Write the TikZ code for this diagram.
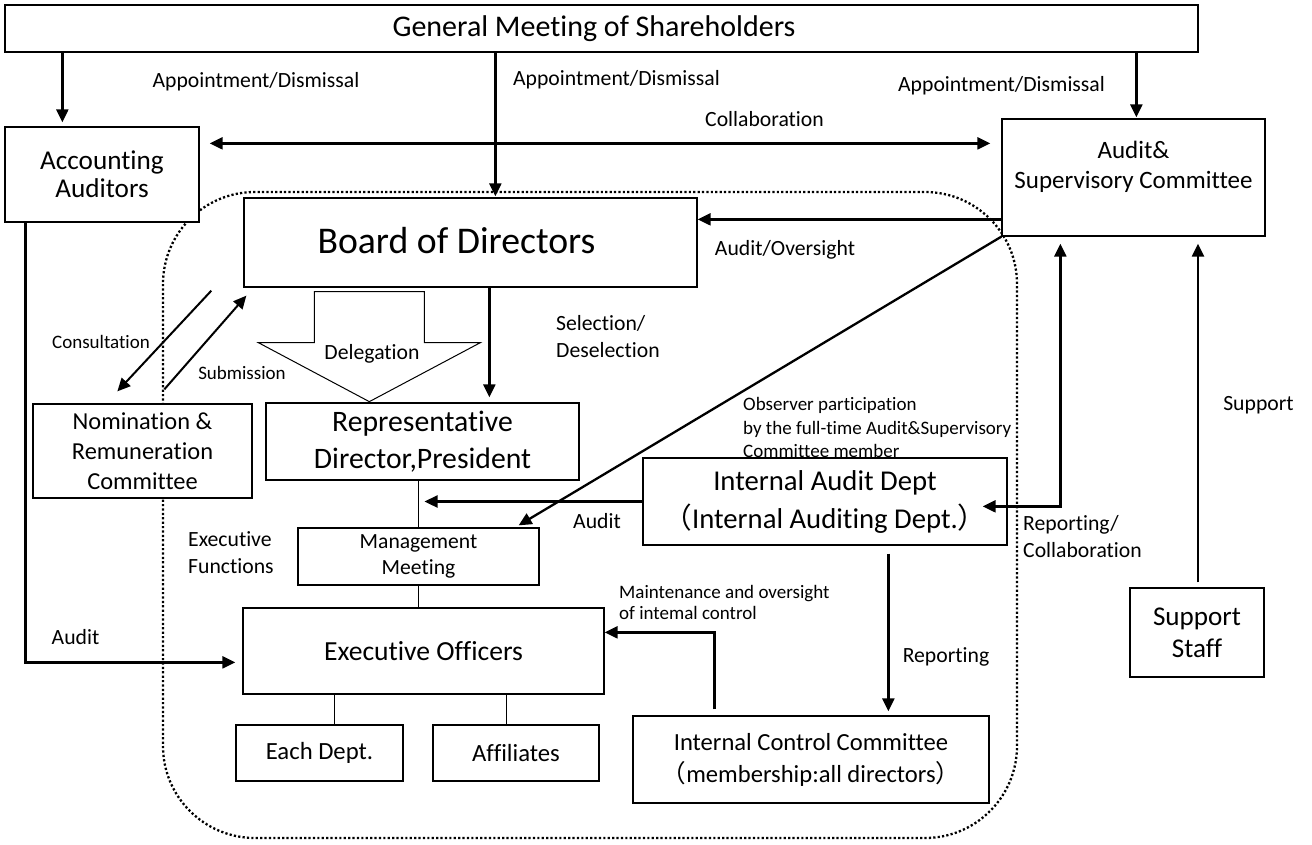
\documentclass[tikz,border=0pt]{standalone}
\usepackage{fontspec}
\setmainfont{Carlito}[Ligatures=NoCommon]
\newfontfamily\cjk{Noto Sans CJK JP}
\usetikzlibrary{arrows.meta,calc}
\newcommand{\fs}[2]{\fontsize{#1}{#2}\selectfont}
\begin{document}
\begin{tikzpicture}[x=1pt,y=-1pt,
  box/.style={draw,line width=1.3pt,fill=white,inner sep=0pt,align=center},
  arr/.style={line width=2.3pt,-{Triangle[length=13pt,width=12pt]}},
  darr/.style={line width=2.3pt,{Triangle[length=13pt,width=12pt]}-{Triangle[length=13pt,width=12pt]}},
  thinline/.style={line width=1.2pt},
  lbl/.style={inner sep=0pt,align=center,font={\fs{21.7}{27}}},
  slbl/.style={inner sep=0pt,align=left,font={\fs{19}{23.5}}},
  frame/.style={line width=2.3pt,dash pattern=on 2.2pt off 2.2pt,rounded corners=92pt}
]
\useasboundingbox (0,0) rectangle (1312,844);
\draw[frame] (163,192) rectangle (1017,838);

% boxes
\node[box,minimum width=1193pt,minimum height=47pt,
  label={[font={\fs{30}{36}},xshift=-7.5pt]center:General Meeting of Shareholders}] (GMS) at (601.5,28.5) {};
\node[box,minimum width=194pt,minimum height=95pt,font={\fs{27.2}{28}}] (AA) at (102,174.5) {Accounting\\Auditors};
\node[box,minimum width=263pt,minimum height=117pt,
  label={[font={\fs{25}{30}},align=center,yshift=10.5pt]center:Audit\&\\Supervisory Committee}] (AS) at (1133.5,177.5) {};
\node[box,minimum width=453pt,minimum height=89pt,
  label={[font={\fs{37.7}{40}},xshift=-14pt,yshift=2pt]center:Board of Directors}] (BOD) at (470.5,242.5) {};
\node[box,minimum width=313pt,minimum height=77pt,font={\fs{29.7}{37}}] (REP) at (422.5,441.5) {Representative\\Director,President};
\node[box,minimum width=219pt,minimum height=94pt,font={\fs{24.4}{30}}] (NRC) at (142.5,451) {Nomination \&\\Remuneration\\Committee};
\node[box,minimum width=241pt,minimum height=57pt,font={\fs{21.6}{26}}] (MM) at (418.5,556.5) {Management\\Meeting};
\node[box,minimum width=361pt,minimum height=86pt,font={\fs{27.6}{30}}] (EO) at (423.5,651) {Executive Officers};
\node[box,minimum width=167pt,minimum height=56pt,font={\fs{24.7}{30}}] (ED) at (319.5,753) {Each Dept.};
\node[box,minimum width=166pt,minimum height=56pt,font={\fs{24.7}{30}}] (AF) at (516,753) {Affiliates};
\node[box,minimum width=356pt,minimum height=87pt,font={\fs{24.6}{32}}] (ICC) at (811,759.5) {Internal Control Committee\\{\cjk （}membership:all directors{\cjk ）}};
\node[box,minimum width=364pt,minimum height=87pt,font={\fs{28.7}{38}}] (IAD) at (825,501.5) {Internal Audit Dept\\{\cjk （}Internal Auditing Dept.{\cjk ）}};
\node[box,minimum width=134pt,minimum height=89pt,font={\fs{27.1}{32}}] (SS) at (1197,632.5) {Support\\Staff};

% delegation block arrow
\begin{scope}[shift={(BOD.south west)}]
\draw[line width=1pt,fill=white] (71,4) -- (71,55) -- (15,55) -- (126,114) -- (237,55) -- (181,55) -- (181,4) -- cycle;
\end{scope}
\node[lbl] (DEL) at (372,354) {Delegation};

% connectors
\coordinate (a1) at ($(AA.north west)+(58,0)$);
\draw[arr,shorten >=4pt] (GMS.south -| a1) -- (a1);
\coordinate (a2) at ($(BOD.north west)+(252,0)$);
\draw[arr,shorten >=1pt] (GMS.south -| a2) -- (a2);
\coordinate (a3) at ($(AS.north west)+(135,0)$);
\draw[arr,shorten >=1pt] (GMS.south -| a3) -- (a3);

\draw[darr] ($(AA.north east)+(10,17)$) -- ($(AS.north west)+(-11,25)$);

\coordinate (ao) at ($(AS.north west)+(0,101)$);
\draw[arr] (ao) -- (BOD.east |- ao);

\coordinate (s1) at ($(BOD.south west)+(246,0)$);
\draw[arr,shorten >=5pt] (s1) -- (s1 |- REP.north);

\draw[arr,line width=2pt] ($(BOD.south west)+(-32,3)$) -- ($(NRC.north west)+(85,-12)$);
\draw[arr,line width=2pt] ($(NRC.north west)+(132,-14)$) -- ($(BOD.south west)+(3,8)$);

\draw[thinline] (MM.north |- REP.south) -- (MM.north);
\draw[arr] (IAD.west) -- ($(MM.north |- IAD.west)+(6,0)$);
\draw[arr] (AS.south west) -- ($(MM.north east)+(-21,-2)$);
\draw[thinline] (MM.south) -- (MM.south |- EO.north);

\coordinate (e1) at ($(EO.south west)+(92,0)$);
\draw[thinline] (e1) -- (e1 |- ED.north);
\coordinate (e2) at ($(EO.south west)+(264,0)$);
\draw[thinline] (e2) -- (e2 |- AF.north);

\coordinate (r1) at ($(IAD.south west)+(246,8)$);
\draw[arr,shorten >=4pt] (r1) -- (r1 |- ICC.north);

\coordinate (m1) at ($(ICC.north west)+(82,-6)$);
\coordinate (m2) at ($(EO.north east)+(0,25)$);
\draw[arr] (m1) |- (m2);

\coordinate (rc1) at ($(AS.south west)+(59,7)$);
\coordinate (rc2) at ($(IAD.north east)+(-25,49)$);
\draw[darr] (rc1) |- (rc2);

\coordinate (sp1) at ($(SS.north)+(1,-5)$);
\draw[arr,shorten >=7pt] (sp1) -- (sp1 |- AS.south);

\coordinate (aa1) at ($(AA.south west)+(21,0)$);
\coordinate (aa2) at ($(EO.north west)+(-7,55)$);
\draw[arr] (aa1) |- (aa2);

% labels
\node[lbl] (L1) at (256,82) {Appointment/Dismissal};
\node[lbl] (L2) at (616.5,80) {Appointment/Dismissal};
\node[lbl] (L3) at (1001.5,86) {Appointment/Dismissal};
\node[lbl] (L4) at (764.5,119) {Collaboration};
\node[lbl] (L5) at (785,250) {Audit/Oversight};
\node[lbl,align=left,anchor=west] (L6) at (556,336.5) {Selection/\\Deselection};
\node[lbl,font={\fs{19}{23}}] (L7) at (101,342) {Consultation};
\node[lbl,font={\fs{19}{23}}] (L8) at (242,373) {Submission};
\node[lbl,align=left,anchor=west] (L9) at (188,552.5) {Executive\\Functions};
\node[lbl] (L10) at (597,521) {Audit};
\node[slbl,anchor=west] (L11) at (743,427.5) {Observer participation\\by the full-time Audit\&Supervisory\\Committee member};
\node[slbl,anchor=west,font={\fs{19}{21}}] (L12) at (619,602.5) {Maintenance and oversight\\of intemal control};
\node[lbl] (L13) at (946,657) {Reporting};
\node[lbl,align=left,anchor=west] (L14) at (1023,536.5) {Reporting/\\Collaboration};
\node[lbl] (L15) at (1258.5,405) {Support};
\node[lbl] (L16) at (75.5,637) {Audit};
\end{tikzpicture}
\end{document}
